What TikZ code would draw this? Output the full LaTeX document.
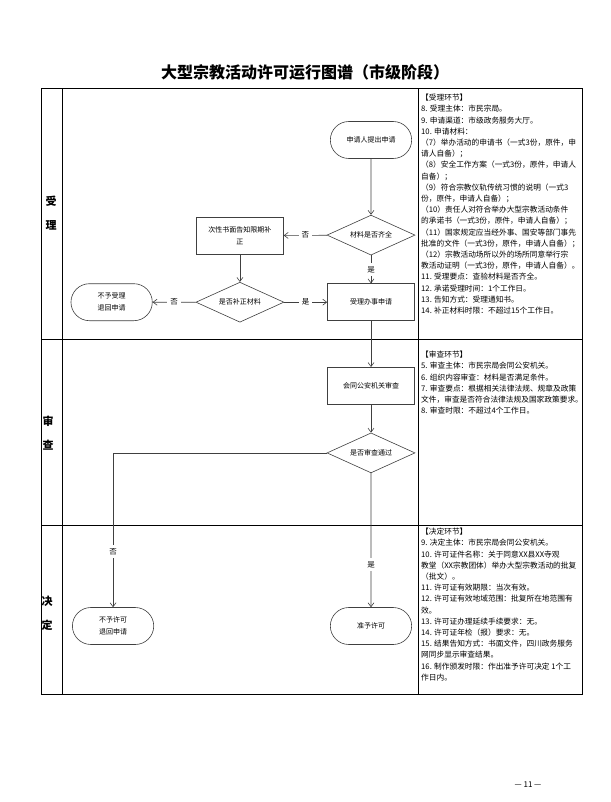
\documentclass[tikz,border=0pt]{standalone}
\usepackage{fontspec}
\setmainfont{Noto Sans CJK SC}
\usepackage{tikz}
\usetikzlibrary{shapes.geometric, shapes.misc, positioning, arrows.meta}

\begin{document}
\begin{tikzpicture}[
        x=1pt, y=-1pt,
        % 全局间距
        node distance=40pt and 43pt,
        % 办理方框样式
        block/.style={
            rectangle,
            draw=black!75,
            semithick,
            fill=white,
            minimum width=87pt,
            minimum height=37pt,
            align=center,
            font=\fontsize{7}{12}\selectfont
        },
        % 起止框样式
        terminal/.style={
            rounded rectangle,
            draw=black!75,
            semithick,
            fill=white,
            minimum width=88pt,
            minimum height=37pt,
            align=center,
            font=\fontsize{7}{12}\selectfont
        },
        % 判断框样式
        decision/.style={
            diamond,
            aspect=2.2,
            draw=black!75,
            semithick,
            fill=white,
            inner sep=0pt,
            minimum width=88pt,
            minimum height=40pt,
            align=center,
            font=\fontsize{7}{12}\selectfont
        },
        % 箭头样式
        arrow/.style={
            -{Straight Barb[length=4pt, width=6pt]},
            draw=black!75,
            semithick
        },
        % 标签文字样式
        label_text/.style={
            fill=white,
            inner sep=3pt,
            font=\fontsize{7.5}{9}\selectfont
        },
        % 泳道名称样式
        lane_text/.style={
            align=center,
            font=\fontsize{11}{24}\selectfont\bfseries
        },
        % 右侧说明文字样式
        note_text/.style={
            anchor=north west,
            inner sep=0pt,
            align=left,
            font=\fontsize{7.7}{11.2}\selectfont
        },
        % 表格线样式
        lane_line/.style={
            draw=black,
            line width=1pt
        }
    ]

    \useasboundingbox (0,0) rectangle (610,802);

    % 0. 标题与表格
    \node[font=\fontsize{16}{18}\selectfont\bfseries] (title) at (305,72) {大型宗教活动许可运行图谱（市级阶段）};
    \draw[lane_line] (41,89) rectangle (582,694);
    \draw[lane_line] (62,89) -- (62,694);
    \draw[lane_line] (418,89) -- (418,694);
    \draw[lane_line] (41,339) -- (582,339);
    \draw[lane_line] (41,525) -- (582,525);

    \node[lane_text] (lane_accept) at (51,213) {受\\理};
    \node[lane_text] (lane_review) at (48,433) {审\\查};
    \node[lane_text] (lane_decide) at (47,613) {决\\定};

    % 1. 受理环节
    \node[terminal] (apply) at (371,140) {申请人提出申请};
    \node[decision, below=56pt of apply] (complete) {材料是否齐全};
    \node[block, below=28pt of complete] (accept) {受理办事申请};
    \node[decision, left=of accept] (supply) {是否补正材料};
    \node[terminal, left=of supply] (reject_accept) {不予受理\\退回申请};
    \node[block, above=27.5pt of supply] (notify) {次性书面告知限期补\\正};

    % 2. 审查环节
    \node[block, below=46pt of accept] (police) {会同公安机关审查};
    \node[decision, below=28pt of police] (pass) {是否审查通过};

    % 3. 决定环节
    \node[terminal, below=134pt of pass] (grant) {准予许可};
    \node[terminal, left=176pt of grant] (reject_grant) {不予许可\\退回申请};

    % 4. 连线与标注
    \draw[arrow] (apply) -- (complete);
    \draw[arrow] (complete) -- node[label_text] {否} (notify);
    \draw[arrow] (notify) -- (supply);
    \draw[arrow] (supply) -- node[label_text] {否} (reject_accept);
    \draw[arrow] (supply) -- node[label_text] {是} (accept);
    \draw[arrow] (complete) -- node[label_text] {是} (accept);
    \draw[arrow] (accept) -- (police);
    \draw[arrow] (police) -- (pass);
    \draw[arrow] (pass) -| node[label_text, pos=0.82] {否} (reject_grant);
    \draw[arrow] (pass) -- node[label_text, pos=0.68] {是} (grant);

    % 5. 右侧说明
    \node[note_text] (note_accept) at (421,94) {【受理环节】\\
        8. 受理主体：市民宗局。\\
        9. 申请渠道：市级政务服务大厅。\\
        10. 申请材料：\\
        （7）举办活动的申请书（一式3份，原件，申\\
        请人自备）；\\
        （8）安全工作方案（一式3份，原件，申请人\\
        自备）；\\
        （9）符合宗教仪轨传统习惯的说明（一式3\\
        份，原件，申请人自备）；\\
        （10）责任人对符合举办大型宗教活动条件\\
        的承诺书（一式3份，原件，申请人自备）；\\
        （11）国家规定应当经外事、国安等部门事先\\
        批准的文件（一式3份，原件，申请人自备）；\\
        （12）宗教活动场所以外的场所同意举行宗\\
        教活动证明（一式3份，原件，申请人自备）。\\
        11. 受理要点：查验材料是否齐全。\\
        12. 承诺受理时间：1个工作日。\\
        13. 告知方式：受理通知书。\\
        14. 补正材料时限：不超过15个工作日。};

    \node[note_text] (note_review) at (421,351) {【审查环节】\\
        5. 审查主体：市民宗局会同公安机关。\\
        6. 组织内容审查：材料是否满足条件。\\
        7. 审查要点：根据相关法律法规、规章及政策\\
        文件，审查是否符合法律法规及国家政策要求。\\
        8. 审查时限：不超过4个工作日。};

    \node[note_text] (note_decide) at (421,528) {【决定环节】\\
        9. 决定主体：市民宗局会同公安机关。\\
        10. 许可证件名称：关于同意XX县XX寺观\\
        教堂（XX宗教团体）举办大型宗教活动的批复\\
        （批文）。\\
        11. 许可证有效期限：当次有效。\\
        12. 许可证有效地域范围：批复所在地范围有\\
        效。\\
        13. 许可证办理延续手续要求：无。\\
        14. 许可证年检（报）要求：无。\\
        15. 结果告知方式：书面文件，四川政务服务\\
        网同步显示审查结果。\\
        16. 制作颁发时限：作出准予许可决定 1个工\\
        作日内。};

    % 页码
    \node[font=\fontsize{8}{10}\selectfont] (page) at (528,785) {— 11 —};

\end{tikzpicture}
\end{document}
